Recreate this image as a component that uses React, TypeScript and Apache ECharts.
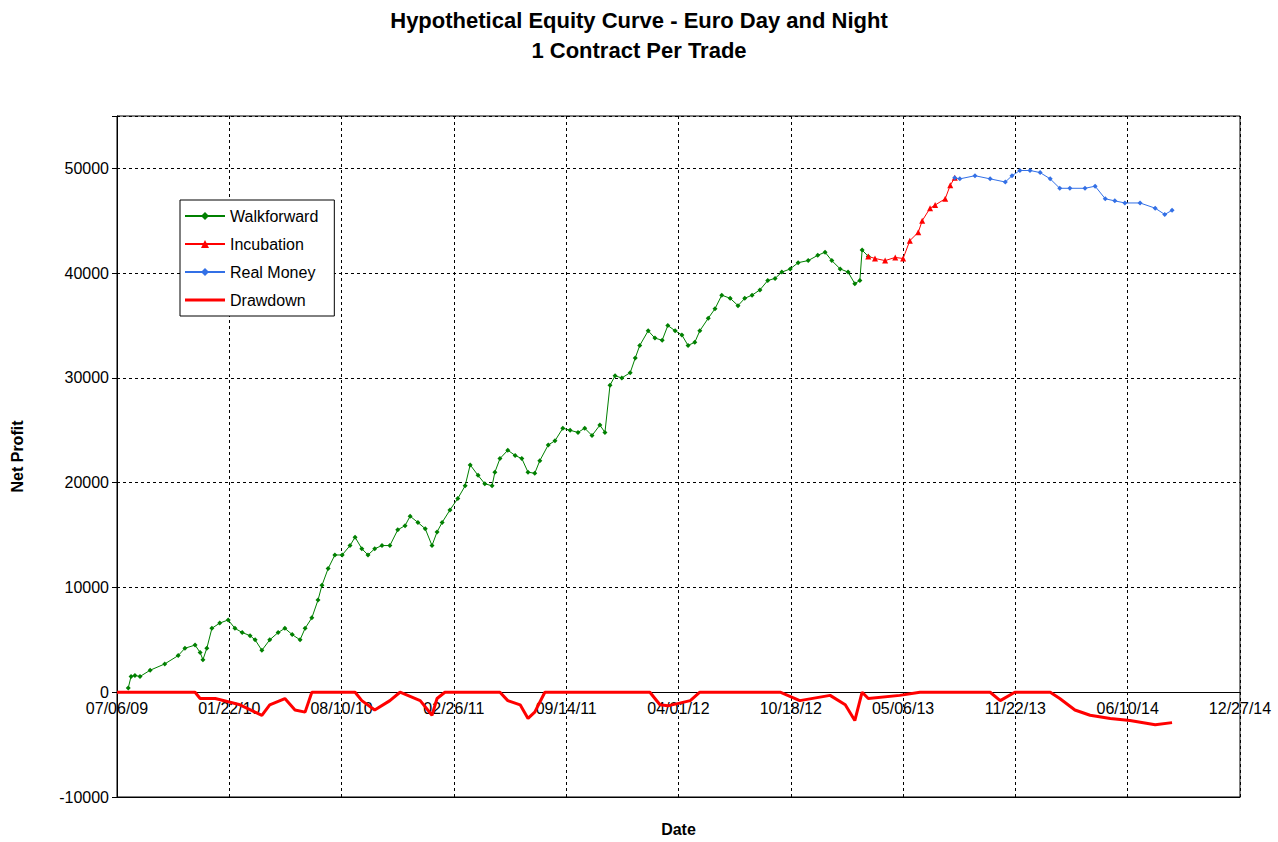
import React, { useEffect, useRef } from 'react';
import * as echarts from 'echarts';

// [days since 07/06/09, value]
const walkforward: [number, number][] = [
  [20, 400], [25, 1500], [32, 1600], [41, 1500], [59, 2100], [85, 2700], [109, 3500], [121, 4200],
  [139, 4500], [148, 3800], [153, 3100], [160, 4200], [169, 6100], [183, 6600], [198, 6900], [210, 6100],
  [223, 5700], [237, 5400], [246, 5000], [258, 4000], [272, 5000], [287, 5700], [299, 6100], [312, 5500],
  [326, 5000], [335, 6100], [347, 7100], [358, 8800], [365, 10200], [376, 11800], [388, 13100], [401, 13100],
  [415, 14000], [424, 14800], [436, 13700], [447, 13100], [459, 13700], [472, 14000], [486, 14000], [500, 15500],
  [513, 15900], [522, 16800], [536, 16200], [549, 15600], [561, 14000], [570, 15300], [579, 16200], [593, 17400],
  [607, 18500], [620, 19700], [629, 21700], [643, 20700], [655, 19900], [668, 19700], [673, 21000], [682, 22300],
  [696, 23100], [709, 22600], [721, 22300], [732, 21000], [744, 20900], [753, 22100], [768, 23600], [780, 24000],
  [794, 25200], [807, 25000], [821, 24800], [833, 25200], [846, 24500], [860, 25500], [869, 24800], [878, 29300],
  [887, 30200], [899, 30000], [914, 30500], [923, 31900], [931, 33100], [946, 34500], [958, 33800], [971, 33600],
  [981, 35000], [994, 34500], [1006, 34100], [1017, 33100], [1029, 33400], [1038, 34500], [1053, 35700], [1065, 36600],
  [1077, 37900], [1092, 37600], [1106, 36900], [1118, 37600], [1131, 37900], [1145, 38400], [1159, 39300], [1172, 39500],
  [1184, 40100], [1199, 40400], [1213, 41000], [1231, 41200], [1248, 41700], [1261, 42000], [1273, 41200], [1288, 40400],
  [1302, 40100], [1314, 39000], [1323, 39300], [1327, 42200], [1338, 41600],
];

const incubation: [number, number][] = [
  [1338, 41600], [1350, 41400], [1368, 41200], [1386, 41500], [1400, 41400], [1412, 43100], [1427, 43900],
  [1434, 45000], [1448, 46200], [1457, 46500], [1475, 47100], [1484, 48400], [1492, 49100],
];

const realMoney: [number, number][] = [
  [1492, 49100], [1501, 49000], [1528, 49300], [1555, 49000], [1582, 48700], [1594, 49300], [1608, 49800],
  [1626, 49800], [1644, 49600], [1662, 49000], [1679, 48100], [1697, 48100], [1724, 48100], [1742, 48300],
  [1760, 47100], [1777, 46900], [1795, 46700], [1822, 46700], [1849, 46200], [1866, 45600], [1879, 46000],
];

const drawdown: [number, number][] = [
  [0, 0], [139, 0], [148, -600], [175, -600], [219, -1200], [246, -1900], [258, -2200], [272, -1200],
  [299, -600], [317, -1700], [335, -1900], [347, 0], [424, 0], [436, -800], [459, -1700], [486, -800],
  [504, 0], [540, -800], [561, -2200], [570, -600], [584, 0], [682, 0], [696, -800], [718, -1200],
  [732, -2500], [744, -1900], [762, 0], [949, 0], [967, -1200], [981, -1300], [1021, -800], [1038, 0],
  [1181, 0], [1216, -800], [1270, -300], [1297, -1200], [1314, -2700], [1327, 0], [1338, -600], [1394, -300],
  [1430, 0], [1555, 0], [1573, -800], [1599, 0], [1662, 0], [1679, -600], [1706, -1700], [1733, -2200],
  [1769, -2500], [1804, -2700], [1849, -3100], [1879, -2900],
];

const startDate = Date.UTC(2009, 6, 6);

function fmtDay(d: number) {
  const dt = new Date(startDate + d * 86400000);
  const p = (n: number) => String(n).padStart(2, '0');
  return `${p(dt.getUTCMonth() + 1)}/${p(dt.getUTCDate())}/${p(dt.getUTCFullYear() % 100)}`;
}

const font = 'Liberation Sans, Arial, sans-serif';

export default function App() {
  const ref = useRef<HTMLDivElement>(null);

  useEffect(() => {
    document.body.style.margin = '0';
    if (!ref.current) return;
    const chart = echarts.init(ref.current, undefined, { renderer: 'svg' });
    const dashed = { show: true, lineStyle: { color: '#000', type: [3, 3] as any, width: 1 } };
    chart.setOption({
      animation: false,
      backgroundColor: '#fff',
      textStyle: { fontFamily: font },
      title: {
        text: 'Hypothetical Equity Curve - Euro Day and Night\n1 Contract Per Trade',
        left: 'center',
        top: 0,
        textStyle: { fontSize: 22, fontWeight: 'bold', color: '#000', lineHeight: 30, fontFamily: font },
      },
      legend: {
        orient: 'vertical',
        left: 180,
        top: 200,
        padding: [8, 16, 8, 4],
        itemGap: 12,
        itemWidth: 40,
        itemHeight: 10,
        borderColor: '#000',
        borderWidth: 1,
        backgroundColor: '#fff',
        textStyle: { fontSize: 16, color: '#000', fontFamily: font },
        data: [
          'Walkforward',
          'Incubation',
          'Real Money',
          { name: 'Drawdown', icon: 'path://M0,4h40v3h-40z' },
        ],
      },
      grid: {
        left: 117, right: 38, top: 116, bottom: 45, show: true, borderColor: '#000', borderWidth: 1,
        outerBoundsMode: 'none',
      },
      xAxis: [
        {
          type: 'value',
          min: 0,
          max: 2000,
          interval: 200,
          name: 'Date',
          nameLocation: 'middle',
          nameGap: 24,
          nameTextStyle: { fontSize: 16, fontWeight: 'bold', color: '#000' },
          position: 'bottom',
          axisLine: { onZero: false, lineStyle: { color: '#000' } },
          axisTick: { show: false },
          axisLabel: { show: false },
          splitLine: dashed,
        },
        {
          type: 'value',
          min: 0,
          max: 2000,
          interval: 200,
          position: 'bottom',
          offset: -105,
          axisLine: { show: true, onZero: false, lineStyle: { color: '#000' } },
          axisTick: { show: false },
          axisLabel: { formatter: (v: number) => fmtDay(v), fontSize: 16, color: '#000', margin: 8 },
          splitLine: { show: false },
        },
      ],
      yAxis: {
        type: 'value',
        min: -10000,
        max: 55000,
        interval: 10000,
        name: 'Net Profit',
        nameLocation: 'middle',
        nameGap: 92,
        nameTextStyle: { fontSize: 16, fontWeight: 'bold', color: '#000' },
        axisLine: { show: true, lineStyle: { color: '#000' } },
        axisTick: { show: true, length: 5, lineStyle: { color: '#000' } },
        axisLabel: {
          fontSize: 16,
          color: '#000',
          formatter: (v: number) => (v === 55000 ? '' : String(v)),
        },
        splitLine: dashed,
      },
      series: [
        {
          name: 'Walkforward', type: 'line', data: walkforward, symbol: 'diamond', symbolSize: 5,
          lineStyle: { color: '#008000', width: 1 }, itemStyle: { color: '#008000' },
        },
        {
          name: 'Incubation', type: 'line', data: incubation, symbol: 'triangle', symbolSize: 6,
          lineStyle: { color: '#ff0000', width: 1 }, itemStyle: { color: '#ff0000' },
        },
        {
          name: 'Real Money', type: 'line', data: realMoney, symbol: 'diamond', symbolSize: 5,
          lineStyle: { color: '#3370e6', width: 1 }, itemStyle: { color: '#3370e6' },
        },
        {
          name: 'Drawdown', type: 'line', data: drawdown, symbol: 'none',
          lineStyle: { color: '#ff0000', width: 3 }, itemStyle: { color: '#ff0000' },
        },
      ],
    });
    return () => chart.dispose();
  }, []);

  return <div ref={ref} style={{ width: 1278, height: 842 }} />;
}
